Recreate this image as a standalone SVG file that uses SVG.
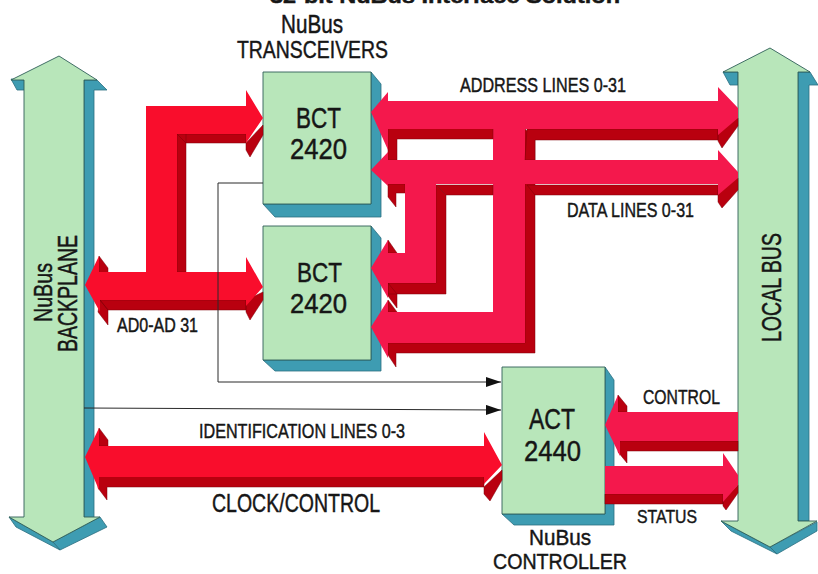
<svg xmlns="http://www.w3.org/2000/svg" width="818" height="574" viewBox="0 0 818 574">
<style>
text{font-family:"Liberation Sans",Arial,sans-serif;fill:#161616;stroke:#161616;stroke-width:.45}
.g{fill:#b8e6ba;stroke:#2f5f58;stroke-width:.9;stroke-linejoin:round}
.b{fill:#3e9cb2;stroke:#2b6f80;stroke-width:.8;stroke-linejoin:round}
.r{fill:#f4184c}
.o{fill:#f90d2c}
.d{fill:#b9000f;stroke:#7d0008;stroke-width:.5;stroke-linejoin:round}
.t{fill:none;stroke:#2a2a2a;stroke-width:1}
</style>
<defs>
<marker id="ah" markerUnits="userSpaceOnUse" markerWidth="16" markerHeight="10" refX="15" refY="5" orient="auto"><path d="M0 0L15 5L0 10Z" fill="#111"/></marker>
</defs>
<text x="270" y="3" font-size="20" font-weight="bold" textLength="350" lengthAdjust="spacingAndGlyphs">32-bit NuBus Interface Solution</text>

<g id="backplane">
<path class="b" d="M84 80H97L107 90H94V518H84Z"/>
<path class="b" d="M11 79L25 80V90H17Z"/>
<path class="b" d="M100 517L107 527L60 550L53 542Z"/>
<path class="b" d="M9 517L53 542L60 550L16 527Z"/>
<path class="g" d="M59 56L97 80H84V517H100L53 542L9 517H24V80H11Z"/>
<text transform="translate(52 322) rotate(-90)" font-size="25" textLength="59" lengthAdjust="spacingAndGlyphs">NuBus</text>
<text transform="translate(77 352) rotate(-90)" font-size="27" textLength="117" lengthAdjust="spacingAndGlyphs">BACKPLANE</text>
</g>

<g id="localbus">
<path class="b" d="M798 72H810L818 85H809V521H798Z"/>
<path class="b" d="M723 72L738 72V85H730Z"/>
<path class="b" d="M817 522V531L777 554L770 547Z"/>
<path class="b" d="M721 521L770 547L777 554L731 531Z"/>
<path class="g" d="M770 48L810 72H798V521H817L770 547L721 521H738V72H723Z"/>
<text transform="translate(781 342) rotate(-90)" font-size="27" textLength="109" lengthAdjust="spacingAndGlyphs">LOCAL BUS</text>
</g>

<g id="bct1">
<path class="b" d="M371 72L381 84V217H275L263 204H371Z"/>
<rect class="g" x="263" y="72" width="108" height="132"/>
<text x="296" y="128" font-size="29" textLength="45" lengthAdjust="spacingAndGlyphs">BCT</text>
<text x="290" y="159" font-size="29" textLength="57" lengthAdjust="spacingAndGlyphs">2420</text>
</g>
<g id="bct2">
<path class="b" d="M371 226L381 238V371H275L263 360H371Z"/>
<rect class="g" x="263" y="226" width="108" height="134"/>
<text x="297" y="282" font-size="28" textLength="45" lengthAdjust="spacingAndGlyphs">BCT</text>
<text x="290" y="313" font-size="28" textLength="57" lengthAdjust="spacingAndGlyphs">2420</text>
</g>
<g id="act">
<path class="b" d="M605 367L614 380V525H514L502 514H605Z"/>
<rect class="g" x="502" y="367" width="103" height="147"/>
<text x="529" y="429" font-size="29" textLength="46" lengthAdjust="spacingAndGlyphs">ACT</text>
<text x="524" y="461" font-size="29" textLength="57" lengthAdjust="spacingAndGlyphs">2440</text>
</g>

<g id="connectors">
<g id="ad-bus">
<path class="d" d="M177 125H186V272H177ZM177 134H246V143H186ZM100 300H246V310H108ZM100 300L108 310V325L98 312ZM246 143L263 125V135L250 157L246 150ZM246 300L263 292V300L250 320L246 312ZM99 256L108 268V275H99Z"/>
<path class="o" d="M85 285L99 256V272H146V106H246V90L263 118L246 143V134H177V272H246V257L263 287L246 306V300H100V312Z"/>
</g>
<g id="data-branch">
<path class="d" d="M436 185L446 195V294H388V283H436ZM388 240L397 253H388ZM388 283L397 294V308L388 296Z"/>
<path class="d" d="M388 184H405V193H396V207L388 197Z"/>
<path class="r" d="M371 268L388 240V253H405V184H436V283H388V298Z"/>
</g>
<g id="address-branch">
<path class="d" d="M525 129L535 139V343L535 353H396V367L388 355V343H525ZM388 300L397 312H388Z"/>
<path class="r" d="M371 327L388 300V312H493V120H525V343H388V358Z"/>
</g>
<g id="address">
<path class="d" d="M388 128H493V139H397V160H388ZM527 129H718V140H535V160H525ZM718 130L738 118V126L722 148L718 141Z"/>
<path class="r" d="M371 112L388 92V101H718V87L738 108V118L718 135V129H388V150Z"/>
</g>
<g id="data">
<path class="d" d="M436 185H493V195H446ZM527 185H718V195H535ZM718 190L738 178V190L722 208L718 202Z"/>
<path class="r" d="M371 170L388 152V160H718V150L738 172V178L718 195V184H388V186Z"/>
</g>
<g id="clock">
<path class="d" d="M98 476H484V487H107V500L98 488ZM484 487L502 470V480L490 501L484 494ZM99 428L108 440V446H99Z"/>
<path class="o" d="M85 457L99 428V446H484V432L502 465L484 484V477H99V490Z"/>
</g>
<g id="control">
<path class="d" d="M620 441H738V451H627V463L618 452ZM618 395L627 406V412H618Z"/>
<path class="r" d="M605 425L618 395V412H738V441H620V456Z"/>
</g>
<g id="status">
<path class="d" d="M605 494H723V504H605ZM723 500L738 485V493L726 510L723 506Z"/>
<path class="r" d="M605 466H723V453L738 475V485L723 502V494H605Z"/>
</g>
<path class="t" d="M263 183H218V382H501" marker-end="url(#ah)"/>
<path class="t" d="M84 408L501 410" marker-end="url(#ah)"/>
</g>

<text x="281" y="33" font-size="25" textLength="62" lengthAdjust="spacingAndGlyphs">NuBus</text>
<text x="237" y="58" font-size="24" textLength="151" lengthAdjust="spacingAndGlyphs">TRANSCEIVERS</text>
<text x="460" y="92" font-size="21" textLength="166" lengthAdjust="spacingAndGlyphs">ADDRESS LINES 0-31</text>
<text x="567" y="217" font-size="21" textLength="127" lengthAdjust="spacingAndGlyphs">DATA LINES 0-31</text>
<text x="117" y="332" font-size="20" textLength="81" lengthAdjust="spacingAndGlyphs">AD0-AD 31</text>
<text x="199" y="438" font-size="20" textLength="206" lengthAdjust="spacingAndGlyphs">IDENTIFICATION LINES 0-3</text>
<text x="212" y="512" font-size="25" textLength="168" lengthAdjust="spacingAndGlyphs">CLOCK/CONTROL</text>
<text x="643" y="404" font-size="20" textLength="77" lengthAdjust="spacingAndGlyphs">CONTROL</text>
<text x="637" y="523" font-size="19" textLength="60" lengthAdjust="spacingAndGlyphs">STATUS</text>
<text x="529" y="544.5" font-size="22" textLength="62" lengthAdjust="spacingAndGlyphs">NuBus</text>
<text x="493" y="569" font-size="22" textLength="134" lengthAdjust="spacingAndGlyphs">CONTROLLER</text>
</svg>
